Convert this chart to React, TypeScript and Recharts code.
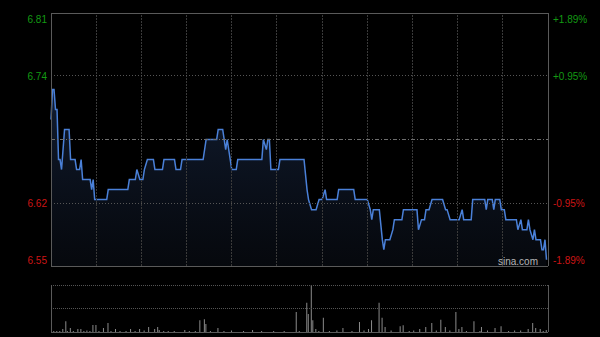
import React from 'react';
import { ComposedChart, Area, Bar, XAxis, YAxis, ReferenceLine } from 'recharts';

// HK session: 9:30-12:00 and 13:00-16:00, minutes counted from the open with lunch removed
const sessionMinutes = 330;
const halfHourGrid = [30, 60, 90, 120, 150, 180, 210, 240, 270, 300];

const prevClose = 6.68;
const limitPct = 1.89;
const pctTicks = [-1.89, -0.95, 0.95, 1.89];

// turning points of the price line
const priceMinutes = [
  0, 1, 2, 3, 4, 5, 6, 7, 9, 12, 13, 16, 17, 19, 20, 21, 26, 27, 28, 29, 37, 38,
  51, 52, 56, 57, 59, 61, 62, 64, 68, 69, 74, 75, 82, 83, 86, 87, 101, 103, 110,
  111, 114, 116, 117, 120, 123, 124, 140, 141, 143, 144, 145, 146, 151, 152, 168,
  170, 171, 173, 176, 178, 180, 182, 183, 190, 191, 201, 202, 210, 212, 213, 214,
  218, 220, 221, 222, 225, 227, 228, 233, 234, 243, 244, 246, 248, 249, 251, 253,
  260, 262, 263, 265, 271, 273, 274, 279, 280, 288, 289, 290, 293, 294, 295, 298,
  299, 301, 302, 309, 310, 312, 313, 316, 317, 318, 320, 321, 322, 325, 326, 327,
  328, 329,
];
const prices = [
  6.70, 6.73, 6.73, 6.71, 6.71, 6.66, 6.66, 6.65, 6.69, 6.69, 6.66, 6.66, 6.65, 6.65, 6.66, 6.64, 6.64, 6.63, 6.64, 6.62, 6.62, 6.63,
  6.63, 6.64, 6.64, 6.65, 6.64, 6.64, 6.65, 6.66, 6.66, 6.65, 6.65, 6.66, 6.66, 6.65, 6.65, 6.66, 6.66, 6.68, 6.68,
  6.69, 6.69, 6.67, 6.68, 6.65, 6.65, 6.66, 6.66, 6.68, 6.67, 6.68, 6.68, 6.65, 6.65, 6.66, 6.66,
  6.63, 6.62, 6.61, 6.61, 6.62, 6.62, 6.63, 6.62, 6.62, 6.63, 6.63, 6.62, 6.62, 6.61, 6.60, 6.61,
  6.61, 6.58, 6.57, 6.58, 6.58, 6.59, 6.60, 6.60, 6.61, 6.61, 6.59, 6.60, 6.60, 6.61, 6.61, 6.62,
  6.62, 6.61, 6.61, 6.60, 6.60, 6.61, 6.60, 6.60, 6.62, 6.62, 6.61, 6.62, 6.62, 6.61, 6.62, 6.62,
  6.61, 6.61, 6.60, 6.60, 6.59, 6.60, 6.59, 6.59, 6.60, 6.59, 6.58, 6.59, 6.58, 6.58, 6.57, 6.57,
  6.58, 6.56,
];

const volMinutes = [
  2, 4, 6, 8, 10, 11, 13, 15, 18, 20, 22, 24, 26, 28, 30, 32, 35, 38, 40, 43, 46, 50,
  53, 56, 59, 62, 65, 69, 71, 72, 75, 78, 82, 89, 92, 96, 99, 102, 103, 106, 111, 115,
  120, 128, 134, 140, 148, 155, 163, 165, 170, 171, 173, 174, 176, 178, 181, 185, 190,
  194, 200, 205, 208, 211, 213, 218, 220, 222, 226, 232, 234, 238, 241, 245, 249, 253,
  256, 259, 262, 265, 269, 271, 273, 276, 281, 285, 286, 290, 295, 299, 304, 308, 312,
  317, 320, 322, 325, 327, 329,
];
const volumes = [
  10, 10, 10, 30, 107, 10, 40, 10, 30, 30, 10, 15, 10, 70, 70, 10, 40, 90, 10, 30, 10, 10,
  30, 10, 30, 15, 50, 30, 50, 20, 10, 10, 10, 20, 10, 10, 117, 127, 80, 10, 40, 10,
  15, 10, 20, 10, 10, 10, 200, 10, 293, 180, 467, 117, 30, 10, 143, 10, 15,
  40, 10, 100, 15, 30, 117, 293, 143, 50, 15, 57, 67, 10, 15, 30, 50, 90,
  15, 123, 50, 15, 200, 30, 50, 10, 107, 10, 50, 15, 40, 57, 10, 15, 15,
  30, 90, 40, 30, 10, 20,
];
const volMax = 470;

const priceData = priceMinutes.map((t, i) => ({ t, p: prices[i] }));
const volData = volMinutes.map((t, i) => ({ t, v: volumes[i] }));

const priceLow = prevClose * (1 - limitPct / 100);
const priceHigh = prevClose * (1 + limitPct / 100);
const priceTicks = pctTicks.map((p) => prevClose * (1 + p / 100));

const UP = '#139a13';
const DOWN = '#cc1515';
const FONT = '"Liberation Sans", Arial, sans-serif';

const edgeShift = (index: number, count: number) => (index === count - 1 ? 6 : index === 0 ? -6 : 0);

const PriceTick = (props: any) => {
  const { x, y, payload, index } = props;
  const shift = edgeShift(index, priceTicks.length);
  return (
    <text x={x} y={y + shift} dy="0.36em" textAnchor="end" fontSize={10} fontFamily={FONT}
      fill={payload.value > prevClose ? UP : DOWN}>
      {payload.value.toFixed(2)}
    </text>
  );
};

const PctTick = (props: any) => {
  const { x, y, payload, index } = props;
  const shift = edgeShift(index, pctTicks.length);
  const v = payload.value;
  return (
    <text x={x} y={y + shift} dy="0.36em" textAnchor="start" fontSize={10} fontFamily={FONT}
      fill={v > 0 ? UP : DOWN}>
      {(v > 0 ? '+' : '') + v.toFixed(2) + '%'}
    </text>
  );
};

const frame = { stroke: '#5a5a5a', strokeWidth: 1, shapeRendering: 'crispEdges' } as any;

export default function App() {
  return (
    <div style={{ position: 'relative', width: 600, height: 337, background: '#000', overflow: 'hidden' }}>
      <style>{'body{margin:0;background:#000}'}</style>
      <div style={{ position: 'absolute', left: 0, top: 0 }}>
        <ComposedChart width={600} height={337} data={priceData}
          margin={{ top: 13, right: 0, bottom: 71, left: 0 }}>
          <defs>
            <linearGradient id="areaFill" x1="0" y1="0" x2="0" y2="1">
              <stop offset="0%" stopColor="#1f3358" stopOpacity={0.55} />
              <stop offset="100%" stopColor="#111826" stopOpacity={0.35} />
            </linearGradient>
          </defs>
          <XAxis dataKey="t" type="number" domain={[0, sessionMinutes]} hide />
          <YAxis yAxisId="price" orientation="left" width={51} domain={[priceLow, priceHigh]}
            ticks={priceTicks} interval={0} axisLine={false} tickLine={false} tickSize={0} tickMargin={4}
            tick={<PriceTick />} allowDataOverflow />
          <YAxis yAxisId="pct" orientation="right" width={52} domain={[-limitPct, limitPct]}
            ticks={pctTicks} interval={0} axisLine={false} tickLine={false} tickSize={0} tickMargin={5}
            tick={<PctTick />} allowDataOverflow />
          {halfHourGrid.map((m) => (
            <ReferenceLine key={'v' + m} yAxisId="price" x={m} stroke="#3a3a3a" strokeDasharray="2 1"
              shapeRendering="crispEdges" />
          ))}
          {[priceTicks[1], priceTicks[2]].map((v) => (
            <ReferenceLine key={'h' + v} yAxisId="price" y={v} stroke="#555" strokeDasharray="1 2"
              shapeRendering="crispEdges" />
          ))}
          <ReferenceLine yAxisId="price" y={prevClose} stroke="#6e6e6e" strokeDasharray="4 2 1 2"
            shapeRendering="crispEdges" />
          <Area yAxisId="price" type="linear" dataKey="p" stroke="#4a80d8" strokeWidth={1.5}
            fill="url(#areaFill)" fillOpacity={1} isAnimationActive={false} dot={false} activeDot={false} />
          <ReferenceLine yAxisId="price" y={priceHigh} {...frame} />
          <ReferenceLine yAxisId="price" y={priceLow} {...frame} />
          <ReferenceLine yAxisId="price" x={0} {...frame} />
          <ReferenceLine yAxisId="price" x={sessionMinutes} {...frame} />
        </ComposedChart>
      </div>
      <div style={{ position: 'absolute', left: 0, top: 0 }}>
        <ComposedChart width={600} height={337} data={volData}
          margin={{ top: 285, right: 52, bottom: 5, left: 51 }}>
          <XAxis dataKey="t" type="number" domain={[0, sessionMinutes]} hide />
          <YAxis domain={[0, volMax]} hide allowDataOverflow />
          <ReferenceLine y={volMax} stroke="#555" strokeDasharray="1 1" shapeRendering="crispEdges" />
          <ReferenceLine y={volMax / 2} stroke="#555" strokeDasharray="1 1" shapeRendering="crispEdges" />
          <Bar dataKey="v" fill="#8a8a8a" barSize={1} isAnimationActive={false} />
          <ReferenceLine y={0} {...frame} />
          <ReferenceLine x={0} {...frame} />
          <ReferenceLine x={sessionMinutes} {...frame} />
        </ComposedChart>
      </div>
      <svg width={600} height={337} style={{ position: 'absolute', left: 0, top: 0, pointerEvents: 'none' }}>
        <text x={498} y={265} fontSize={10} fontFamily={FONT} fill="#b5b5b5">sina.com</text>
      </svg>
    </div>
  );
}
